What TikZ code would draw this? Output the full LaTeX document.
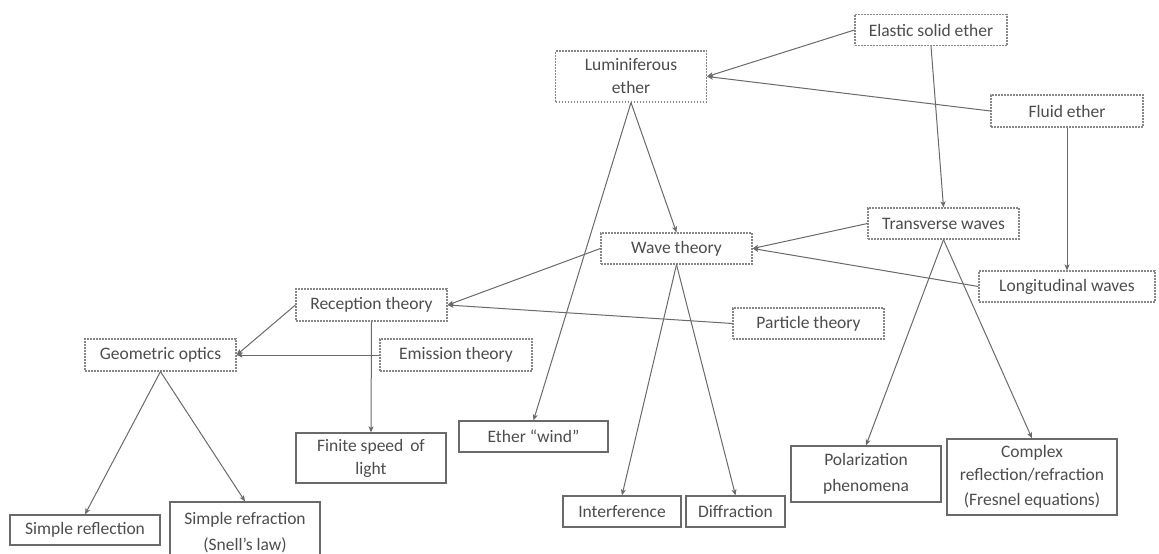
\documentclass[tikz,border=0pt]{standalone}
\usepackage{fontspec}
\setmainfont{Carlito}
\usetikzlibrary{arrows.meta}
\definecolor{txt}{HTML}{4D4D4D}
\definecolor{ln}{HTML}{6A6A6A}
\begin{document}
\begin{tikzpicture}[x=1pt,y=-1pt,
  base/.style={inner sep=0pt, align=center, text=txt, font=\fontsize{17.5}{23}\selectfont},
  dbox/.style={base, draw=ln!80, line width=1.2pt, dash pattern=on 1.6pt off 1.4pt},
  sbox/.style={base, draw=ln, line width=1.3pt},
  conn/.style={draw=ln, line width=1pt, -{Stealth[length=6pt,width=5pt,inset=1.5pt]}}
]
\useasboundingbox[fill=white] (0,0) rectangle (1159,554);
\begin{scope}
\clip (0,0) rectangle (1159,554);
% dotted boxes
\node[dbox, minimum width=152pt, minimum height=31pt] (elastic) at (931,30) {Elastic solid ether};
\node[dbox, minimum width=151pt, minimum height=51pt] (lumin) at (631,76.5) {Luminiferous\\ether};
\node[dbox, minimum width=152pt, minimum height=32pt] (fluid) at (1067,111) {Fluid ether};
\node[dbox, minimum width=151pt, minimum height=31pt] (trans) at (943.5,223.5) {Transverse waves};
\node[dbox, minimum width=151pt, minimum height=31pt] (wave) at (676.5,248.5) {Wave theory};
\node[dbox, minimum width=176pt, minimum height=31pt] (longi) at (1067,286.5) {Longitudinal waves};
\node[dbox, minimum width=151pt, minimum height=32pt] (recep) at (371.5,305) {Reception theory};
\node[dbox, minimum width=151pt, minimum height=31pt] (particle) at (808.5,323.5) {Particle theory};
\node[dbox, minimum width=151pt, minimum height=32pt] (geom) at (160.5,355) {Geometric optics};
\node[dbox, minimum width=152pt, minimum height=32pt] (emission) at (456,355) {Emission theory};
% solid boxes
\node[sbox, minimum width=150pt, minimum height=50pt] (finite) at (371,458) {Finite speed\, of\\light};
\node[sbox, minimum width=149pt, minimum height=31pt] (wind) at (533.5,436.5) {Ether “wind”};
\node[sbox, minimum width=118pt, minimum height=31pt] (interf) at (622,511.5) {Interference};
\node[sbox, minimum width=99pt, minimum height=31pt] (diffr) at (735.5,511.5) {Diffraction};
\node[sbox, minimum width=150pt, minimum height=56pt] (polar) at (866,474) {Polarization\\[3pt]phenomena};
\node[sbox, minimum width=170pt, minimum height=76pt] (complex) at (1032,477) {Complex\\reflection/refraction\\[2pt](Fresnel equations)};
\node[sbox, minimum width=150pt, minimum height=30pt] (sreflect) at (85,530) {Simple reflection};
\node[sbox, minimum width=150pt, minimum height=58pt, text depth=0pt] (srefract) at (245,531) {Simple refraction\\[3pt](Snell’s law)};
% connectors
\draw[conn] (elastic.west) -- (lumin.east);
\draw[conn] (fluid.west) -- (lumin.east);
\draw[conn] (elastic.south) -- (trans.north);
\draw[conn] (fluid.south) -- (longi.north);
\draw[conn] (lumin.south) -- (wave.north);
\draw[conn] (lumin.south) -- (wind.north);
\draw[conn] (trans.west) -- (wave.east);
\draw[conn] (longi.west) -- (wave.east);
\draw[conn] (wave.west) -- (recep.east);
\draw[conn] (particle.west) -- (recep.east);
\draw[conn] (recep.west) -- (geom.east);
\draw[conn] (emission.west) -- (geom.east);
\draw[conn] (recep.south) -- (finite.north);
\draw[conn] (wave.south) -- (interf.north);
\draw[conn] (wave.south) -- (diffr.north);
\draw[conn] (trans.south) -- (polar.north);
\draw[conn] (trans.south) -- (complex.north);
\draw[conn] (geom.south) -- (sreflect.north);
\draw[conn] (geom.south) -- (srefract.north);
\end{scope}
\end{tikzpicture}
\end{document}
